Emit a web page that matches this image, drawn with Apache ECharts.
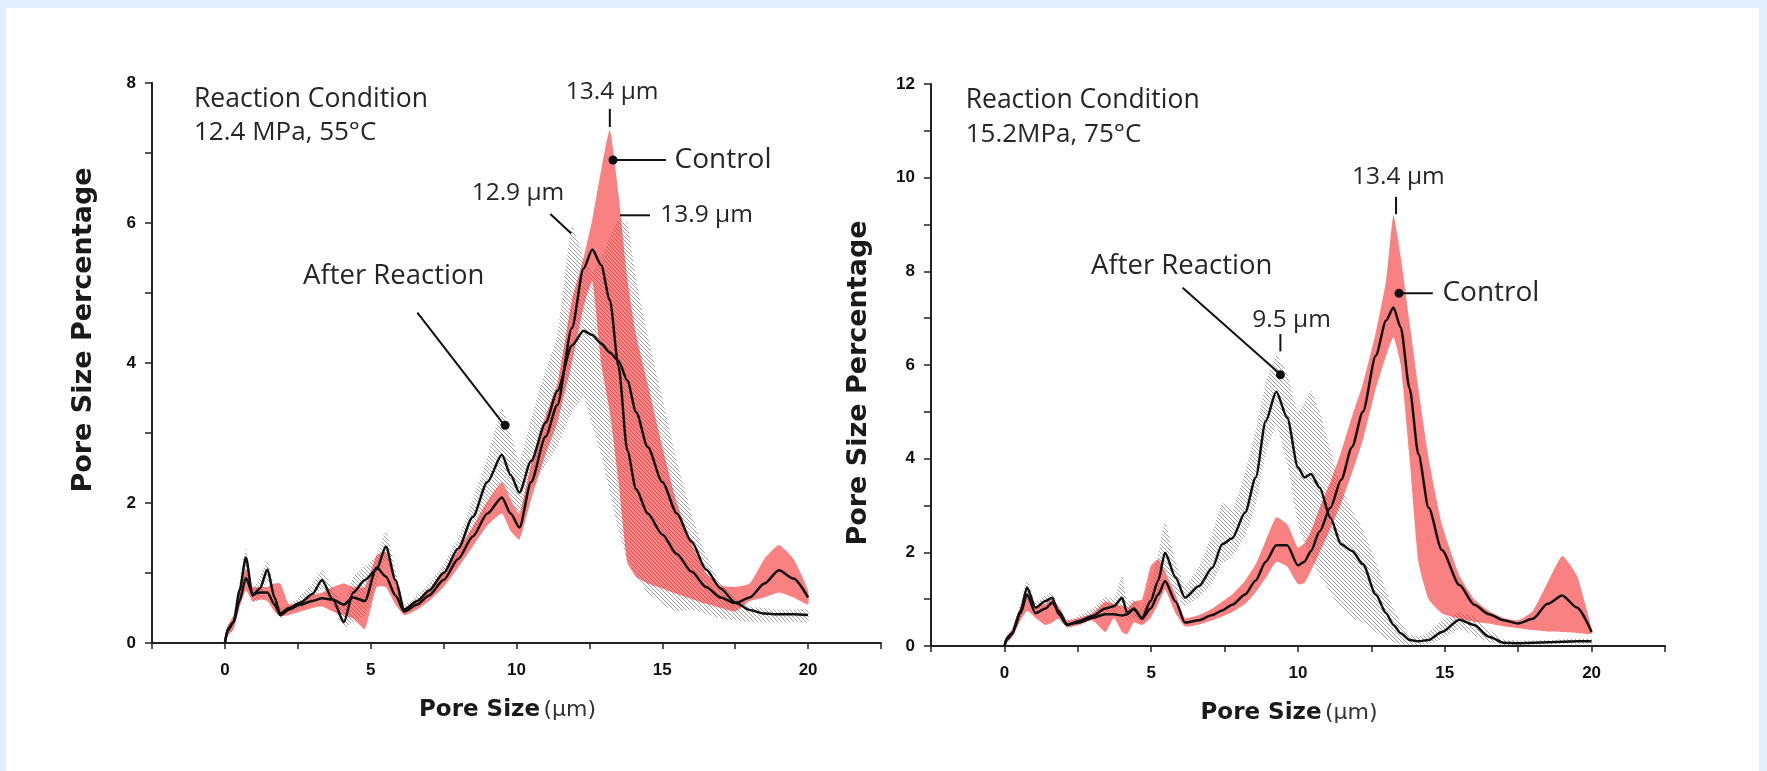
<!DOCTYPE html>
<html><head><meta charset="utf-8">
<script src="https://cdn.jsdelivr.net/npm/echarts@6/dist/echarts.min.js"></script>
<style>
html,body{margin:0;padding:0;width:1767px;height:771px;overflow:hidden;background:#e2eefb;}
#panel{position:absolute;left:6px;top:8px;width:1753px;height:763px;background:#fff;}
#chart{position:absolute;left:0;top:0;width:1767px;height:771px;}
</style></head><body><div id="panel"></div><div id="chart"></div>
<script>
// ---------- Left panel: 12.4 MPa, 55 C ----------
const poreL = [0,0.1,0.3,0.5,0.72,0.95,1.2,1.46,1.7,1.9,2.2,2.6,3.0,3.33,3.7,4.08,4.4,4.8,5.2,5.52,5.85,6.15,6.6,7.0,7.5,8.0,8.5,9.0,9.5,9.8,10.1,10.5,11.0,11.4,11.9,12.3,12.6,12.9,13.2,13.5,13.8,14.1,14.5,15.0,15.5,16.0,16.5,17.0,17.5,18.0,18.5,19.0,19.5,20.0];
const afterMeanL = [0,0.2,0.3,0.75,1.22,0.68,0.78,1.05,0.65,0.42,0.5,0.58,0.7,0.9,0.62,0.3,0.72,0.9,1.05,1.38,0.9,0.48,0.6,0.75,1.0,1.35,1.8,2.3,2.69,2.4,2.15,2.6,3.15,3.6,4.25,4.46,4.4,4.28,4.15,4.03,3.75,3.3,2.8,2.3,1.85,1.45,1.05,0.78,0.58,0.47,0.42,0.41,0.41,0.4];
const afterLowL  = [0,0.1,0.2,0.6,1.0,0.58,0.62,0.9,0.55,0.35,0.45,0.5,0.6,0.78,0.5,0.22,0.3,0.4,0.85,1.2,0.8,0.42,0.52,0.65,0.88,1.15,1.5,1.95,2.3,2.05,1.85,2.2,2.55,2.8,3.3,3.5,3.1,2.7,2.15,1.6,1.2,0.95,0.72,0.55,0.45,0.48,0.42,0.35,0.32,0.3,0.3,0.3,0.3,0.3];
const afterHighL = [0.1,0.25,0.4,0.85,1.35,0.8,0.95,1.18,0.78,0.5,0.55,0.68,0.85,1.05,0.78,0.55,0.95,1.1,1.25,1.6,1.05,0.55,0.68,0.85,1.12,1.5,2.05,2.65,3.35,3.0,2.6,3.2,3.9,4.4,5.95,5.5,5.3,5.5,5.8,6.05,6.0,5.2,4.4,3.5,2.6,1.85,1.25,0.85,0.65,0.52,0.5,0.48,0.48,0.48];
const ctrlMeanL  = [0,0.18,0.3,0.6,0.93,0.7,0.72,0.72,0.55,0.4,0.48,0.55,0.6,0.64,0.62,0.55,0.65,0.6,1.08,0.95,0.68,0.45,0.55,0.68,0.9,1.2,1.52,1.85,2.08,1.85,1.65,2.3,2.95,3.4,4.5,5.35,5.62,5.4,4.9,3.95,2.75,2.2,1.85,1.55,1.27,1.02,0.8,0.65,0.57,0.65,0.85,1.04,0.92,0.65];
const ctrlLowL   = [0,0.1,0.2,0.5,0.75,0.6,0.62,0.6,0.45,0.38,0.4,0.45,0.5,0.52,0.45,0.4,0.35,0.2,0.8,0.8,0.55,0.4,0.48,0.6,0.8,1.08,1.38,1.68,1.85,1.6,1.48,2.05,2.7,3.15,4.0,4.8,5.17,4.0,3.3,2.3,1.15,0.95,0.85,0.78,0.7,0.63,0.56,0.5,0.45,0.6,0.65,0.72,0.65,0.55];
const ctrlHighL  = [0.1,0.25,0.4,0.75,1.05,0.8,0.8,0.8,0.85,0.85,0.55,0.6,0.68,0.72,0.8,0.85,0.8,0.8,1.25,1.3,0.9,0.5,0.62,0.76,1.0,1.32,1.66,2.02,2.3,2.05,1.85,2.55,3.25,3.7,4.9,5.5,6.05,6.75,7.33,6.4,5.2,4.4,3.7,2.8,2.0,1.42,1.0,0.82,0.8,0.85,1.2,1.4,1.2,0.75];

// ---------- Right panel: 15.2 MPa, 75 C ----------
const poreR = [0,0.1,0.26,0.55,0.77,1.06,1.4,1.63,1.85,2.14,2.53,3.0,3.44,3.73,4.01,4.18,4.41,4.69,4.98,5.24,5.47,5.83,6.15,6.63,7.08,7.42,7.76,8.2,8.56,8.9,9.26,9.63,10.0,10.22,10.44,10.74,11.1,11.47,11.84,12.21,12.65,13.0,13.25,13.5,13.8,14.1,14.45,14.9,15.5,16.0,16.5,17.0,17.5,18.0,18.5,19.0,19.5,20.0];
const afterMeanR = [0,0.18,0.28,0.75,1.25,0.82,0.96,1.03,0.68,0.45,0.53,0.64,0.8,0.85,1.03,0.71,0.78,0.6,0.96,1.4,1.99,1.46,1.03,1.28,1.67,2.17,2.3,2.85,3.6,4.8,5.43,4.88,3.81,3.6,3.67,3.38,2.74,2.17,2.03,1.75,1.1,0.7,0.45,0.27,0.13,0.1,0.13,0.3,0.56,0.45,0.2,0.07,0.06,0.07,0.08,0.09,0.1,0.1];
const afterLowR  = [0,0.1,0.2,0.6,1.0,0.7,0.85,0.9,0.55,0.38,0.45,0.55,0.65,0.7,0.8,0.55,0.6,0.45,0.8,1.15,1.6,1.15,0.85,1.05,1.35,1.75,1.9,2.35,3.0,4.1,4.7,3.9,2.6,2.2,1.9,1.5,1.15,0.8,0.6,0.5,0.3,0.15,0.08,0.04,0.02,0.02,0.05,0.15,0.35,0.22,0.08,0.02,0.02,0.03,0.04,0.05,0.05,0.05];
const afterHighR = [0.1,0.25,0.38,0.9,1.42,0.95,1.08,1.15,0.8,0.55,0.65,0.8,1.05,1.0,1.5,0.95,1.0,0.85,1.35,1.95,2.65,1.8,1.3,1.7,2.4,3.05,2.9,3.7,4.6,5.6,6.2,5.8,5.0,5.2,5.45,5.0,4.2,3.4,2.9,2.5,1.8,1.2,0.8,0.5,0.25,0.2,0.3,0.55,0.72,0.62,0.35,0.14,0.12,0.12,0.13,0.14,0.15,0.15];
const ctrlMeanR  = [0,0.15,0.25,0.7,1.1,0.7,0.8,0.93,0.75,0.46,0.5,0.6,0.68,0.68,0.65,0.68,0.8,0.58,0.8,1.1,1.39,0.95,0.5,0.55,0.66,0.76,0.88,1.1,1.4,1.8,2.15,2.15,1.72,1.8,2.03,2.45,2.95,3.55,4.25,5.0,6.2,6.95,7.23,6.8,5.5,4.1,2.95,2.05,1.3,0.88,0.68,0.55,0.48,0.58,0.9,1.08,0.82,0.3];
const ctrlLowR   = [0,0.08,0.18,0.55,0.75,0.6,0.45,0.5,0.6,0.4,0.45,0.55,0.3,0.6,0.3,0.25,0.5,0.45,0.6,0.9,1.2,0.7,0.42,0.46,0.55,0.63,0.72,0.9,1.15,1.45,1.8,1.7,1.32,1.35,1.6,2.0,2.5,3.05,3.7,4.4,5.5,6.2,6.6,6.0,4.0,1.8,1.0,0.7,0.58,0.52,0.48,0.42,0.38,0.34,0.31,0.3,0.28,0.26];
const ctrlHighR  = [0.1,0.22,0.35,0.85,1.15,0.85,0.9,1.0,0.85,0.55,0.6,0.7,0.95,0.9,0.85,0.8,0.95,1.0,1.7,1.85,1.6,1.1,0.6,0.66,0.8,0.95,1.1,1.4,1.75,2.25,2.75,2.6,2.1,2.2,2.45,2.95,3.5,4.15,4.9,5.6,6.7,7.8,9.2,8.3,6.9,5.5,4.0,2.6,1.5,1.0,0.75,0.6,0.55,0.75,1.35,1.92,1.5,0.38];

// ---------- Axis ticks ----------
const xLabelTicks = [0,5,10,15,20];
const yLabelTicksL = [0,2,4,6,8];
const yLabelTicksR = [0,2,4,6,8,10,12];

// ---------- Annotations (data coordinates) ----------
const textsL = [
  ['Reaction Condition', -1.06, 7.76, 'left', 26.5],
  ['12.4 MPa, 55°C', -1.06, 7.29, 'left', 26],
  ['13.4 µm', 13.28, 7.87, 'center', 24.5],
  ['Control', 15.42, 6.9, 'left', 28],
  ['12.9 µm', 10.05, 6.43, 'center', 24.5],
  ['13.9 µm', 14.93, 6.11, 'left', 24.5],
  ['After Reaction', 5.79, 5.24, 'center', 27.5]
];
const leadersL = [[[13.2,7.63],[13.2,7.37]], [[13.31,6.9],[15.13,6.9]], [[11.16,6.13],[11.88,5.85]], [[13.55,6.11],[14.58,6.11]], [[6.6,4.72],[9.55,3.13]]];
const dotsL = [[13.31,6.9],[9.61,3.11]];
const textsR = [
  ['Reaction Condition', -1.32, 11.64, 'left', 26.5],
  ['15.2MPa, 75°C', -1.32, 10.93, 'left', 26],
  ['13.4 µm', 13.42, 10.01, 'center', 24.5],
  ['Control', 14.92, 7.53, 'left', 28],
  ['After Reaction', 6.04, 8.12, 'center', 27.5],
  ['9.5 µm', 9.78, 6.97, 'center', 24.5]
];
const leadersR = [[[13.34,9.59],[13.34,9.22]], [[13.44,7.53],[14.59,7.53]], [[6.07,7.65],[9.33,5.84]], [[9.4,6.66],[9.4,6.29]]];
const dotsR = [[13.44,7.53],[9.4,5.79]];

// ---------- build ----------
function hatchPattern(){
  const c = document.createElement('canvas'); c.width = 4; c.height = 4;
  const g = c.getContext('2d');
  g.strokeStyle = 'rgba(110,110,110,0.66)'; g.lineWidth = 1;
  g.beginPath();
  g.moveTo(0,0); g.lineTo(4,4);
  g.moveTo(-1,3); g.lineTo(1,5);
  g.moveTo(3,-1); g.lineTo(5,1);
  g.stroke();
  return c;
}
const HATCH = {type:'pattern', image: hatchPattern(), repeat: 'repeat'};
const RED = 'rgba(245,45,45,0.6)';
const SM = 0.25;

function pairs(xs, ys){ return xs.map((x,i)=>[x, ys[i]]); }
function band(gi, xs, lo, hi, fill, z){
  return {type:'custom', coordinateSystem:'cartesian2d', xAxisIndex:gi, yAxisIndex:gi, clip:true, silent:true, z:z,
    data: xs.map((x,i)=>[x, lo[i], hi[i]]),
    encode:{x:0, y:[1,2]},
    renderItem: function(params, api){
      if (params.dataIndex !== 0) return null;
      const pts = [];
      for (let i = 0; i < xs.length; i++) pts.push(api.coord([xs[i], lo[i]]));
      for (let i = xs.length - 1; i >= 0; i--) pts.push(api.coord([xs[i], hi[i]]));
      return {type:'polygon', shape:{points:pts, smooth:0.15}, style:{fill:fill, stroke:null}};
    }
  };
}
function meanLine(gi, xs, ys){
  return {type:'line', xAxisIndex:gi, yAxisIndex:gi, data:pairs(xs, ys), symbol:'none', smooth:SM, smoothMonotone:'x', lineStyle:{color:'#111', width:2.5}, silent:true, z:5};
}
function xAxisOf(gi){
  return {gridIndex:gi, type:'value', min:-2.5, max:22.5, interval:2.5,
    axisLine:{onZero:false, lineStyle:{color:'#222', width:2}},
    axisTick:{show:true, length:6, lineStyle:{color:'#222', width:1.5}},
    axisLabel:{margin:19, color:'#111', fontFamily:'Liberation Sans', fontWeight:'bold', fontSize:17,
      formatter:v=> xLabelTicks.indexOf(Math.round(v*100)/100) >= 0 ? String(v) : ''},
    splitLine:{show:false},
    name:'{b|Pore Size} {r|(µm)}', nameLocation:'middle', nameGap:56,
    nameTextStyle:{padding:[0,18,0,0], rich:{b:{fontFamily:'DejaVu Sans', fontWeight:'bold', fontSize:23, color:'#1a1a1a'}, r:{fontFamily:'DejaVu Sans', fontSize:22, color:'#333'}}}
  };
}
function yAxisOf(gi, max, ticks, pad, gap){
  return {gridIndex:gi, type:'value', min:0, max:max, interval:1,
    axisLine:{show:true, onZero:false, lineStyle:{color:'#222', width:2}},
    axisTick:{show:true, length:7, lineStyle:{color:'#222', width:1.5}},
    axisLabel:{margin:16, color:'#111', fontFamily:'Liberation Sans', fontWeight:'bold', fontSize:17,
      formatter:v=> ticks.indexOf(v) >= 0 ? String(v) : ''},
    splitLine:{show:false},
    name:'Pore Size Percentage', nameLocation:'middle', nameGap:gap,
    nameTextStyle:{fontFamily:'DejaVu Sans', fontWeight:'bold', fontSize:27, color:'#1a1a1a', padding:pad}
  };
}

const series = [
  band(0, poreL, afterLowL, afterHighL, HATCH, 1),
  band(0, poreL, ctrlLowL, ctrlHighL, RED, 2),
  meanLine(0, poreL, ctrlMeanL), meanLine(0, poreL, afterMeanL),
  band(1, poreR, afterLowR, afterHighR, HATCH, 1),
  band(1, poreR, ctrlLowR, ctrlHighR, RED, 2),
  meanLine(1, poreR, ctrlMeanR), meanLine(1, poreR, afterMeanR)
];

const chart = echarts.init(document.getElementById('chart'), null, {renderer:'canvas'});
chart.setOption({
  animation:false,
  backgroundColor:'transparent',
  grid:[
    {left:152, top:83, width:729, height:560},
    {left:931, top:84, width:734, height:562}
  ],
  xAxis:[xAxisOf(0), xAxisOf(1)],
  yAxis:[yAxisOf(0, 8, yLabelTicksL, [0,0,0,66], 55), yAxisOf(1, 12, yLabelTicksR, [0,36,0,0], 59)],
  series:series
});

function annot(gi, texts, leaders, dots){
  const els = [];
  const px = p => chart.convertToPixel({gridIndex:gi}, p);
  texts.forEach(t => {
    const p = px([t[1], t[2]]);
    els.push({type:'text', x:p[0], y:p[1], silent:true, z:10,
      style:{text:t[0], fill:'#262626', fontFamily:'Open Sans', fontSize:t[4], align:t[3], verticalAlign:'middle'}});
  });
  leaders.forEach(l => {
    const a = px(l[0]), b = px(l[1]);
    els.push({type:'line', silent:true, z:10, shape:{x1:a[0], y1:a[1], x2:b[0], y2:b[1]}, style:{stroke:'#111', lineWidth:2}});
  });
  dots.forEach(d => {
    const p = px(d);
    els.push({type:'circle', silent:true, z:11, shape:{cx:p[0], cy:p[1], r:4.5}, style:{fill:'#111'}});
  });
  return els;
}
chart.setOption({graphic: [].concat(annot(0, textsL, leadersL, dotsL), annot(1, textsR, leadersR, dotsR))});
</script>
</body></html>
